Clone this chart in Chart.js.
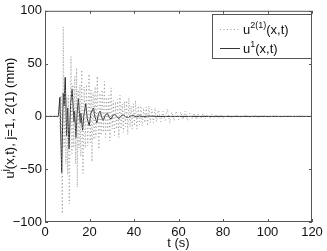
<!DOCTYPE html>
<html lang="en">
<head>
  <meta charset="UTF-8" />
  <title>u(x,t) response</title>
  <script src="https://cdn.jsdelivr.net/npm/chart.js"></script>
  <style>
    body { margin: 0; background: #ffffff; }
    .wrap { width: 327px; height: 251px; }
  </style>
</head>
<body>
  <div class="wrap"><canvas id="chart" width="327" height="251"></canvas></div>

  <script>
    // tick values
    const xTicks = [0, 20, 40, 60, 80, 100, 120];
    const yTicks = [-100, -50, 0, 50, 100];

    // u^1(x,t) - solid line
    const tSolid = [0, 6.0, 6.7, 7.5, 8.2, 8.6, 9.1, 9.7, 10.2, 10.8, 11.5, 12.2, 13.0, 13.3, 13.9, 14.4, 15.0, 15.8, 16.1, 16.9,
      17.4, 18.3, 19.0, 19.9, 20.6, 21.8, 22.5, 23.3, 24.0, 24.8, 25.5, 26.2, 27.0, 28.0, 28.8, 29.7, 30.5, 31.5, 32.3, 33.3,
      34.2, 35.2, 36.3, 37.5, 38.6, 39.7, 41.0, 42.5, 44.0, 46.0, 50.0, 120];
    const uSolid = [0, 0, 18, -53, 22, 10, 37, -18, 8, -31, 12, 26, -5, 5, -20, 2, 17, -6, 3, -13,
      0, 12, -2, -9, 3, 8, -1, -6, 2, 5, -1, -4, 1, 3, -1, -2.5, 1, 2, -0.5, -2,
      0.5, 1.5, -0.5, -1, 0.5, 0.7, -0.5, 0.5, -0.3, 0.3, 0, 0];

    // u^2(1)(x,t) - dotted line
    const tDot = [0, 6.0, 6.4, 6.8, 7.2, 7.8, 8.2, 8.6, 9.0, 9.4, 9.8, 10.2, 10.5, 10.9, 11.7, 12.1, 12.5, 12.9, 13.4, 13.8,
      14.2, 14.5, 14.9, 15.3, 15.7, 16.1, 16.5, 17.1, 17.6, 18.1, 18.6, 19.2, 19.8, 20.3, 20.7, 21.1, 21.6, 22.0, 22.5, 22.9,
      23.5, 24.2, 24.7, 25.2, 25.7, 26.2, 26.7, 27.2, 27.7, 28.2, 28.7, 29.2, 29.7, 30.2, 30.7, 31.2, 31.7, 32.2, 32.7, 33.2,
      33.7, 34.2, 34.7, 35.2, 35.7, 36.2, 36.7, 37.2, 37.7, 38.2, 38.7, 39.2, 39.7, 40.2, 40.7, 41.3, 41.9, 42.5, 43.1, 43.7,
      44.3, 44.9, 45.5, 46.1, 46.7, 47.3, 48.0, 48.7, 49.4, 50.1, 51, 52, 53, 54, 55, 56, 57, 58, 59, 60,
      61, 62, 63, 64, 65, 66, 67, 68, 69, 70, 71, 72, 73, 74, 75, 76, 77, 78, 79, 80,
      82, 84, 86, 88, 90, 92, 94, 96, 98, 100, 103, 106, 109, 112, 115, 118, 120];
    const uDot = [0, 0, 6, -12, 20, -92, 85, -30, 25, -45, 18, -55, 20, -83, 57, -35, 30, -30, 38, -45,
      46, -67, 25, -30, 30, -38, 44, -54, 28, -30, 30, -28, 40, -25, 25, -43, 22, -22, 28, -20,
      38, -31, 22, -18, 25, -15, 33, -20, 18, -15, 20, -23, 27, -12, 15, -18, 14, -12, 16, -20,
      20, -12, 12, -15, 14, -10, 15, -17, 18, -10, 10, -12, 12, -9, 15, -12, 10, -8, 10, -9,
      8, -6, 9, -9, 10, -6, 7, -6, 8, -5, 6, -5, 5, -4, 7, -6, 4, -4, 5, -3,
      4, -3, 5, -4, 3, -2.5, 3, -3, 2.5, -2, 3, -2, 2, -2, 2, -1.5, 2, -1.5, 1.5, -2,
      1.5, -1.5, 1.2, -1, 1.5, -1, 1, -0.8, 1, -0.8, 0.6, -0.6, 0.5, -0.4, 0.4, -0.3, 0];

    const toPoints = (xs, ys) => xs.map((x, i) => ({ x: x, y: ys[i] }));
    const FONT = 'Liberation Sans, Arial, sans-serif';

    // box, inward ticks, legend and y title drawn on top
    const framePlugin = {
      id: 'frame',
      afterDraw(chart) {
        const c = chart.ctx;
        const a = chart.chartArea;
        const xs = chart.scales.x, ys = chart.scales.y;
        c.save();
        c.strokeStyle = '#555';
        c.lineWidth = 1;
        c.strokeRect(a.left + 0.5, a.top + 0.5, a.right - a.left - 1, a.bottom - a.top - 1);
        c.beginPath();
        xTicks.forEach(v => {
          const px = Math.round(xs.getPixelForValue(v)) + 0.5;
          c.moveTo(px, a.bottom); c.lineTo(px, a.bottom - 3);
          c.moveTo(px, a.top); c.lineTo(px, a.top + 3);
        });
        yTicks.forEach(v => {
          const py = Math.round(ys.getPixelForValue(v)) + 0.5;
          c.moveTo(a.left, py); c.lineTo(a.left + 3, py);
          c.moveTo(a.right, py); c.lineTo(a.right - 3, py);
        });
        c.stroke();

        // legend
        const lx = 212, ly = 14, lw = 99, lh = 44;
        c.fillStyle = '#fff';
        c.fillRect(lx, ly, lw, lh);
        c.strokeStyle = '#555';
        c.strokeRect(lx + 0.5, ly + 0.5, lw, lh);
        c.strokeStyle = '#999';
        c.setLineDash([1, 2.5]);
        c.beginPath(); c.moveTo(220, 29.5); c.lineTo(240, 29.5); c.stroke();
        c.setLineDash([]);
        c.strokeStyle = '#333';
        c.beginPath(); c.moveTo(220, 48.5); c.lineTo(240, 48.5); c.stroke();
        c.fillStyle = '#111';
        c.textBaseline = 'alphabetic';
        c.textAlign = 'left';
        const sup = (x, y, base, s, rest) => {
          c.font = '13px ' + FONT;
          c.fillText(base, x, y);
          x += c.measureText(base).width;
          c.font = '9px ' + FONT;
          c.fillText(s, x, y - 6);
          x += c.measureText(s).width;
          c.font = '13px ' + FONT;
          c.fillText(rest, x, y);
        };
        sup(243, 34, 'u', '2(1)', '(x,t)');
        sup(243, 53, 'u', '1', '(x,t)');

        // y axis title
        c.translate(14, 118);
        c.rotate(-Math.PI / 2);
        const t1 = 'u', t2 = 'j', t3 = '(x,t), j=1, 2(1) (mm)';
        c.font = '13px ' + FONT;
        const w1 = c.measureText(t1).width, w3 = c.measureText(t3).width;
        c.font = '9px ' + FONT;
        const w2 = c.measureText(t2).width;
        sup(-(w1 + w2 + w3) / 2, 0, t1, t2, t3);
        c.restore();
      }
    };

    new Chart(document.getElementById('chart'), {
      type: 'line',
      data: {
        datasets: [
          {
            label: 'u2(1)(x,t)',
            data: toPoints(tDot, uDot),
            borderColor: '#9a9a9a',
            borderWidth: 1,
            borderDash: [1, 2.5],
            pointRadius: 0,
            tension: 0
          },
          {
            label: 'u1(x,t)',
            data: toPoints(tSolid, uSolid),
            borderColor: '#2a2a2a',
            borderWidth: 1,
            pointRadius: 0,
            tension: 0
          }
        ]
      },
      options: {
        responsive: false,
        animation: false,
        layout: { padding: { top: 10, right: 15, left: 0, bottom: 0 } },
        plugins: { legend: { display: false }, tooltip: { enabled: false } },
        scales: {
          x: {
            type: 'linear',
            min: 0, max: 120,
            afterBuildTicks: s => { s.ticks = xTicks.map(v => ({ value: v })); },
            afterFit: s => { s.height = 29; },
            grid: { display: false, drawTicks: false },
            border: { display: false },
            ticks: { color: '#111', padding: 3, font: { family: FONT, size: 13 } },
            title: { display: true, text: 't (s)', color: '#111', padding: 0, font: { family: FONT, size: 13 } }
          },
          y: {
            min: -100, max: 100,
            afterBuildTicks: s => { s.ticks = yTicks.map(v => ({ value: v })); },
            afterFit: s => { s.width = 45; },
            grid: { display: false, drawTicks: false },
            border: { display: false },
            ticks: { color: '#111', padding: 3, font: { family: FONT, size: 13 },
              callback: v => (v < 0 ? '\u2212' + Math.abs(v) : v) }
          }
        }
      },
      plugins: [framePlugin]
    });
  </script>
</body>
</html>
